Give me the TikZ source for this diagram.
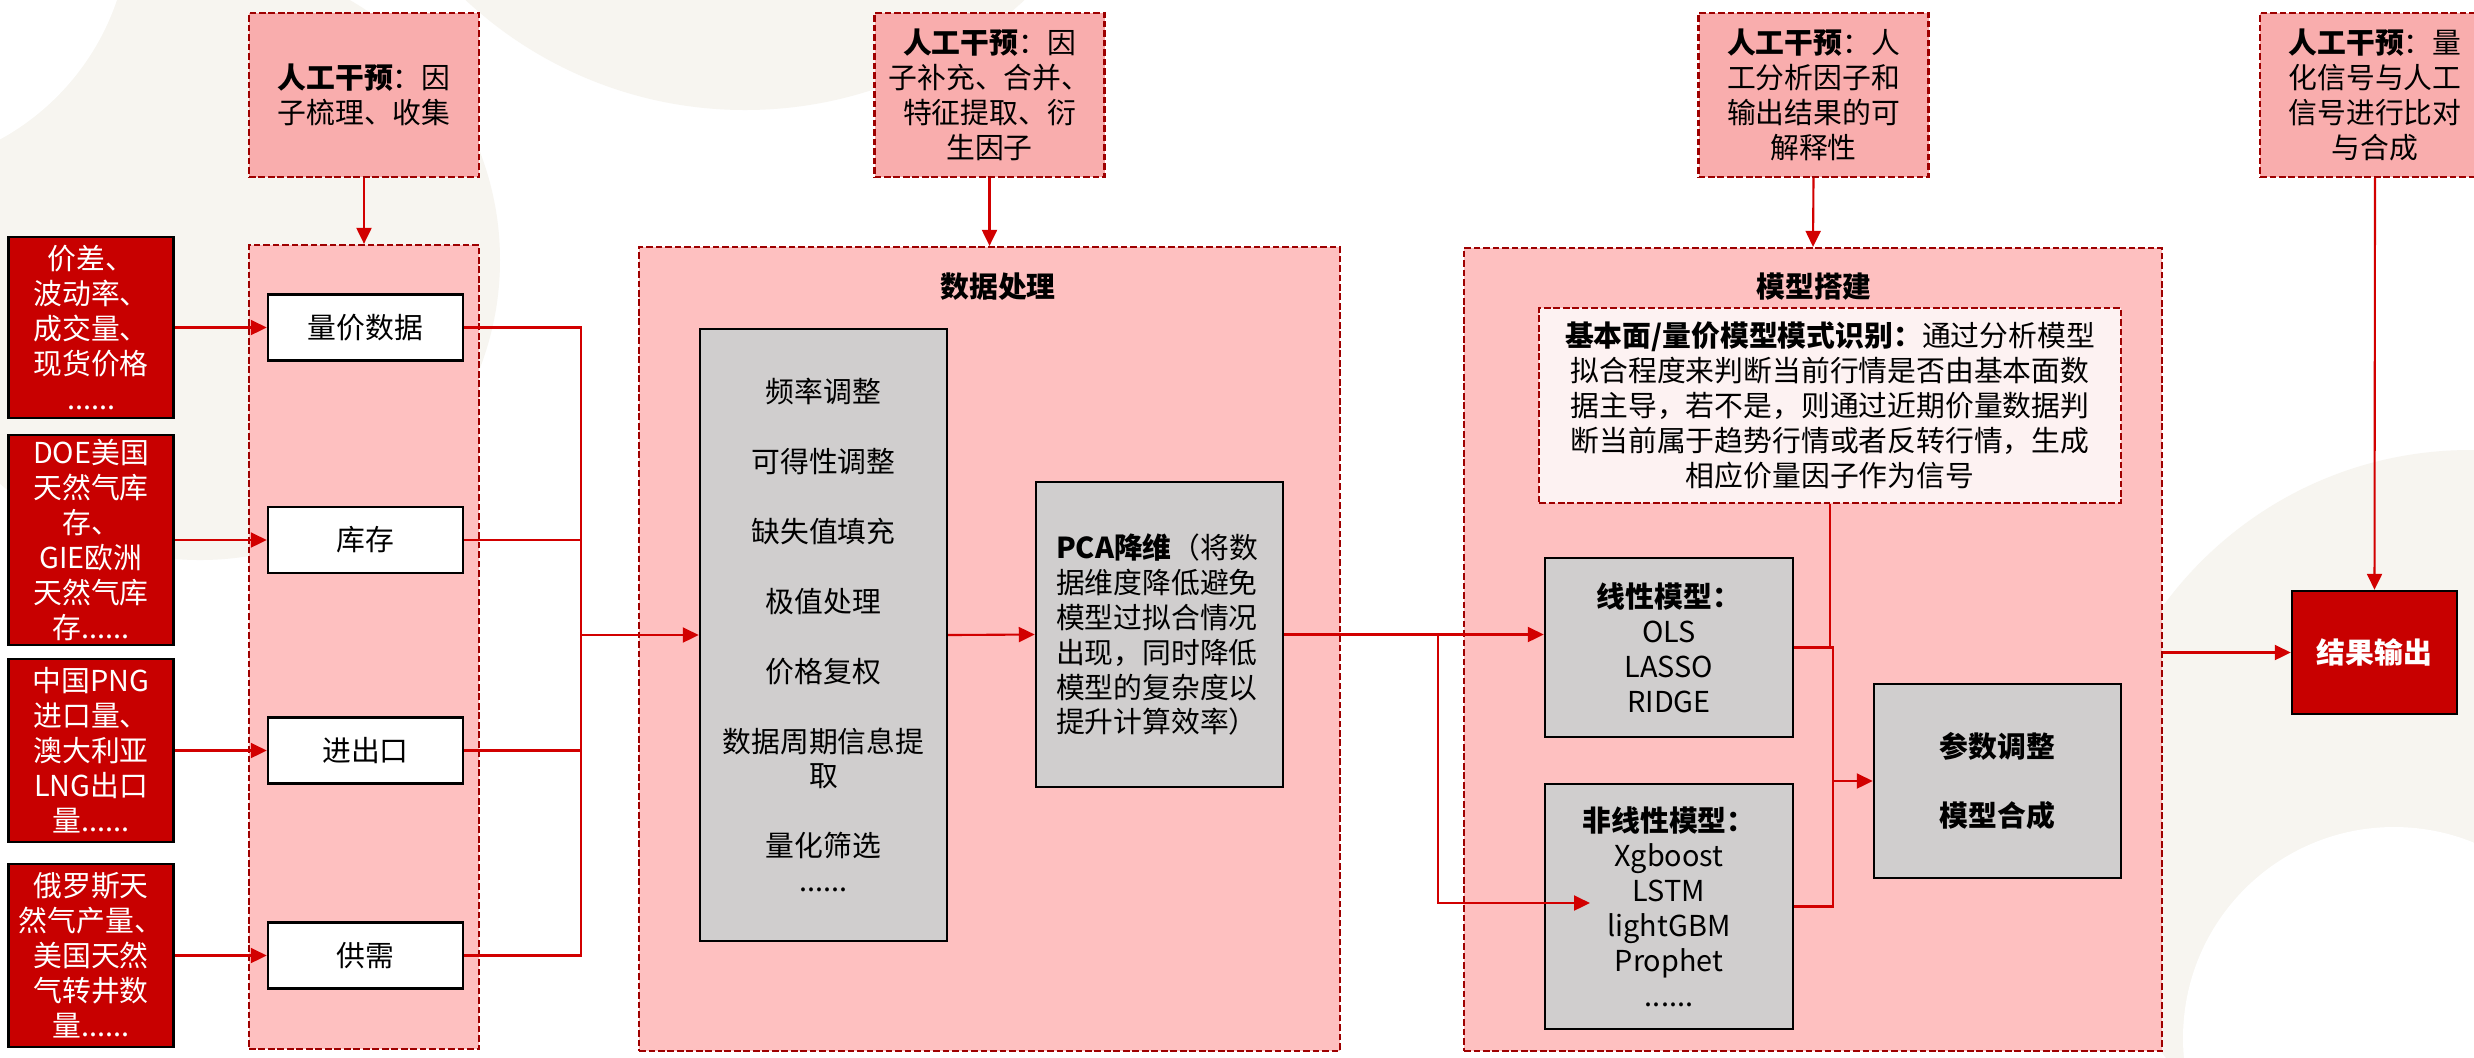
\documentclass[tikz,border=0pt]{standalone}
\usepackage{fontspec}
\setmainfont{Noto Sans CJK SC}
\usepackage{xcolor}
\usepackage{tikz}
\usetikzlibrary{arrows.meta,positioning,calc}
\definecolor{NGDeep}{HTML}{9E0000}
\definecolor{NGIv}{HTML}{F9ADAD}
\definecolor{NGStage}{HTML}{FEC0C0}
\definecolor{NGNote}{HTML}{FDF2F2}
\definecolor{NGRed}{HTML}{C80000}
\definecolor{NGFlow}{HTML}{D20000}
\definecolor{NGGray}{HTML}{D0CECE}
\definecolor{NGBeige}{HTML}{F7F5F0}
\newcommand{\ngfont}{\fontsize{8.2pt}{9.95pt}\selectfont}
\newcommand{\bterm}[1]{\textbf{#1}}

\begin{document}
\begin{tikzpicture}[
    x=0.1mm, y=-0.1mm,
    font=\ngfont,
    dashbox/.style={draw=NGDeep, line width=0.65pt, dash pattern=on 1.9pt off 0.8pt,
      inner sep=0pt, align=center},
    ivbox/.style={dashbox, fill=NGIv, minimum width=23mm, minimum height=16.4mm},
    stagebox/.style={dashbox, fill=NGStage},
    notebox/.style={dashbox, fill=NGNote},
    title/.style={font=\ngfont\bfseries},
    srcbox/.style={draw=black, fill=NGRed, text=white, line width=0.7pt,
      minimum width=16.5mm, inner sep=0pt, align=center},
    itembox/.style={draw=black, fill=white, line width=0.7pt,
      minimum width=19.5mm, minimum height=6.6mm, inner sep=0pt},
    graybox/.style={draw=black, fill=NGGray, line width=0.7pt, inner sep=0pt, align=center},
    link/.style={draw=NGFlow, line width=0.6pt},
    thinlink/.style={draw=NGFlow, line width=0.35pt},
    flow/.style={link, -{Triangle[length=1.6mm,width=1.5mm]}}
  ]
    \clip (0,0) rectangle (2474,1057);
    \fill[white] (0,0) rectangle (2474,1057);
    % background
    \fill[NGBeige] (200,260) circle (30mm);
    \fill[white] (-120,-80) circle (25mm);
    \fill[NGBeige] (745,-300) circle (41mm);
    \fill[NGBeige] (2470,830) circle (38mm);
    \fill[white] (2394,1038) circle (21.1mm);

    % stages
    \node[stagebox, minimum width=23mm, minimum height=80.4mm] (st1) at (364,647) {};
    \node[stagebox, minimum width=70.1mm, minimum height=80.4mm] (st2) at (989.5,649) {};
    \node[stagebox, minimum width=69.8mm, minimum height=80.3mm] (st3) at (1813,649.5) {};
    \node[title] (t2) at (998,287) {数据处理};
    \node[title] (t3) at (1814,287) {模型搭建};

    % manual intervention
    \node[ivbox] (iv1) at (364,95) {\bterm{人工干预}：因\\子梳理、收集};
    \node[ivbox] (iv2) at (989.5,95) {\bterm{人工干预}：因\\子补充、合并、\\特征提取、衍\\生因子};
    \node[ivbox] (iv3) at (1813.5,95) {\bterm{人工干预}：人\\工分析因子和\\输出结果的可\\解释性};
    \node[ivbox] (iv4) at (2375,95) {\bterm{人工干预}：量\\化信号与人工\\信号进行比对\\与合成};

    % factor sources
    \node[itembox] (q1) at (365.5,327.5) {量价数据};
    \node[itembox] (q2) at (365.5,540) {库存};
    \node[itembox] (q3) at (365.5,750.5) {进出口};
    \node[itembox] (q4) at (365.5,955.5) {供需};
    \node[srcbox, minimum height=18.1mm, left=9.2mm of q1] (s1)
      {价差、\\波动率、\\成交量、\\现货价格\\......};
    \node[srcbox, minimum height=21mm, left=9.2mm of q2] (s2)
      {DOE美国\\天然气库\\存、\\GIE欧洲\\天然气库\\存......};
    \node[srcbox, minimum height=18.3mm, left=9.2mm of q3] (s3)
      {中国PNG\\进口量、\\澳大利亚\\LNG出口\\量......};
    \node[srcbox, minimum height=18.3mm, left=9.2mm of q4] (s4)
      {俄罗斯天\\然气产量、\\美国天然\\气转井数\\量......};

    % data processing
    \node[graybox, minimum width=24.7mm, minimum height=61.2mm] (list) at (823.5,635)
      {频率调整\\[3.5mm]可得性调整\\[3.5mm]缺失值填充\\[3.5mm]极值处理\\[3.5mm]价格复权\\[3.5mm]%
       数据周期信息提\\取\\[3.5mm]量化筛选\\......};
    \node[graybox, minimum width=24.7mm, minimum height=30.5mm, text width=20.7mm,
      align=left] (pca) at (1159.5,634.5)
      {\bterm{PCA降维}（将数\\据维度降低避免\\模型过拟合情况\\出现，同时降低\\模型的复杂度以\\提升计算效率）};

    % model building
    \node[notebox, minimum width=58.2mm, minimum height=19.5mm] (recog) at (1830,405.5)
      {\bterm{基本面/量价模型模式识别：}通过分析模型\\拟合程度来判断当前行情是否由基本面数\\%
       据主导，若不是，则通过近期价量数据判\\断当前属于趋势行情或者反转行情，生成\\相应价量因子作为信号};
    \node[graybox, minimum width=24.8mm, minimum height=17.9mm] (lin) at (1669,647.5)
      {\bterm{线性模型：}\\OLS\\LASSO\\RIDGE};
    \node[graybox, minimum width=24.8mm, minimum height=24.5mm] (nonlin) at (1669,906.5)
      {\bterm{非线性模型：}\\Xgboost\\LSTM\\lightGBM\\Prophet\\......};
    \node[graybox, minimum width=24.7mm, minimum height=19.4mm, font=\ngfont\bfseries]
      (param) at (1997.5,781) {参数调整\\[3.5mm]模型合成};
    \node[srcbox, minimum height=12.3mm, font=\ngfont\bfseries] (result) at (2374.5,652.5) {结果输出};

    \coordinate (bus) at (581,635);
    \coordinate (split) at (1438,635);
    \coordinate (nontip) at (1590,903);
    \coordinate (merge) at (1833,781);

    % connectors
    \draw[flow] (iv1.south) -- (st1.north);
    \draw[flow] (iv2.south) -- (st2.north);
    \draw[flow] (iv3.south) -- (st3.north);
    \draw[flow] (iv4.south) -- (result.north);

    \draw[flow] (s1.east) -- (q1.west);
    \draw[flow] (s2.east) -- (q2.west);
    \draw[flow] (s3.east) -- (q3.west);
    \draw[flow] (s4.east) -- (q4.west);
    \draw[link] (q1.east) -| (bus);
    \draw[link] (q2.east) -| (bus);
    \draw[link] (q3.east) -| (bus);
    \draw[link] (q4.east) -| (bus);
    \draw[flow] (bus) -- (list.west);
    \draw[flow] (list.east) -- (pca.west);

    \draw[flow] (pca.east) -- (pca.east -| lin.west);
    \draw[flow] (split) |- (nontip);
    \draw[thinlink] (recog.south) -- (recog.south |- lin.east);
    \draw[link] (lin.east) -| (merge);
    \draw[link] (nonlin.east) -| (merge);
    \draw[flow] (merge) -- (param.west);
    \draw[flow] (st3.east |- result.west) -- (result.west);
  \end{tikzpicture}
\end{document}
